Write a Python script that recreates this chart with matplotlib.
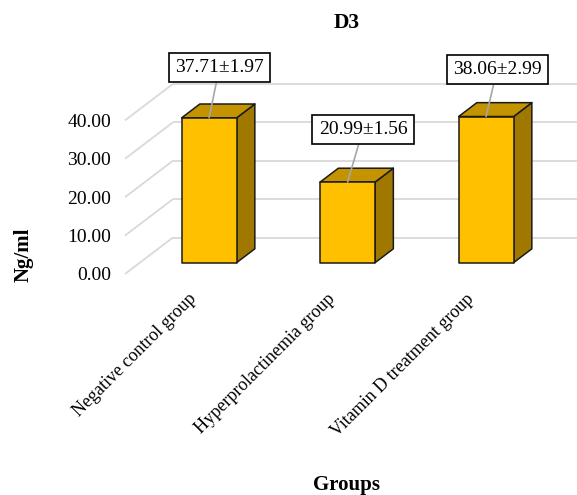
import matplotlib.pyplot as plt
from matplotlib.patches import Polygon

groups = ['Negative control group', 'Hyperprolactinemia group', 'Vitamin D treatment group']
means = [37.71, 20.99, 38.06]
sds = [1.97, 1.56, 2.99]
yticks = [0, 10, 20, 30, 40]
# label box offsets (points) from the top of each bar
label_offsets = [(7.4, 36.2), (11.1, 37.9), (7.9, 33.8)]

plt.rcParams['font.family'] = ['Liberation Serif', 'DejaVu Serif']

fig = plt.figure(figsize=(5.77, 4.95), dpi=100)
ax = fig.add_axes([0.2166, 0.4465, 0.7201, 0.3103])
ax.set_xlim(-0.5, 2.5)
ax.set_ylim(0, 40)

# oblique depth of the 3D plot box, in data units
dep_x, dep_y = 0.3466, 9.5
z0, z1 = 0.31, 0.69      # bar front / back as fraction of the depth
bw = 0.397

grid_c = '#D9D9D9'
for v in yticks:
    # side wall
    ax.plot([-0.5, -0.5 + dep_x], [v, v + dep_y], color=grid_c, lw=1.3,
            clip_on=False, zorder=1, solid_capstyle='butt')
    # back wall
    ax.plot([-0.5 + dep_x, 2.5 + dep_x], [v + dep_y, v + dep_y], color=grid_c,
            lw=1.3, clip_on=False, zorder=1, solid_capstyle='butt')

front_c, top_c, side_c = '#FFC000', '#C49400', '#A07800'
ddx, ddy = (z1 - z0) * dep_x, (z1 - z0) * dep_y
for i, (m, s) in enumerate(zip(means, sds)):
    x0 = i - bw / 2 + z0 * dep_x
    x1 = x0 + bw
    yb = z0 * dep_y
    yt = yb + m
    side = [(x1, yb), (x1 + ddx, yb + ddy), (x1 + ddx, yt + ddy), (x1, yt)]
    top = [(x0, yt), (x1, yt), (x1 + ddx, yt + ddy), (x0 + ddx, yt + ddy)]
    front = [(x0, yb), (x1, yb), (x1, yt), (x0, yt)]
    for pts, c in [(side, side_c), (top, top_c), (front, front_c)]:
        ax.add_patch(Polygon(pts, closed=True, fc=c, ec='#1A1A1A', lw=1.1,
                             joinstyle='round', clip_on=False, zorder=3))

    ax.annotate(f'{m:.2f}±{s:.2f}', xy=(i + z0 * dep_x, yt),
                xytext=label_offsets[i], textcoords='offset points',
                ha='center', va='center', fontsize=14, zorder=5,
                annotation_clip=False,
                bbox=dict(boxstyle='square,pad=0.32', fc='white', ec='black', lw=1.2),
                arrowprops=dict(arrowstyle='-', color='#A6A6A6', lw=1.2,
                                shrinkA=0, shrinkB=0))

ax.set_yticks(yticks)
ax.set_yticklabels([f'{v:.2f}' for v in yticks], fontsize=14)
ax.set_xticks(range(len(groups)))
ax.set_xticklabels(groups, rotation=45, ha='right', va='center',
                   rotation_mode='anchor', fontsize=13)
ax.tick_params(axis='y', length=0, pad=10)
ax.tick_params(axis='x', length=0, pad=16)
for sp in ax.spines.values():
    sp.set_visible(False)
ax.patch.set_visible(False)

fig.text(347 / 577, 1 - 23 / 495, 'D3', ha='center', va='center',
         fontsize=15.5, fontweight='bold')
fig.text(24 / 577, 1 - 255 / 495, 'Ng/ml', ha='center', va='center',
         rotation=90, fontsize=15, fontweight='bold')
fig.text(347 / 577, 1 - 485 / 495, 'Groups', ha='center', va='center',
         fontsize=15, fontweight='bold')

fig.savefig('out.png', dpi=100)
